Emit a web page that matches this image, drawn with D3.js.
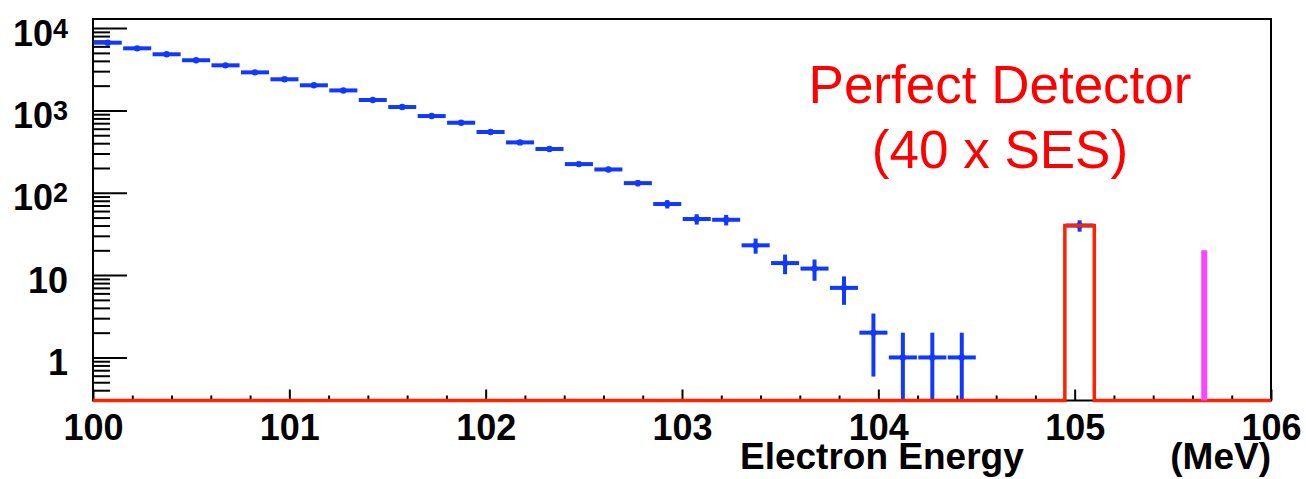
<!DOCTYPE html>
<html>
<head>
    <title>Electron Energy - Perfect Detector</title>
    <meta charset="utf-8">
    <script src="https://d3js.org/d3.v7.min.js"></script>
    <style>
        body, html {
            margin: 0;
            padding: 0;
            background: #ffffff;
        }
        svg {
            display: block;
            font-family: "Liberation Sans", Arial, Helvetica, sans-serif;
        }
        .axis text {
            font-size: 36px;
            font-weight: bold;
            fill: #000;
        }
        .axis path {
            display: none;
        }
        .axis line {
            stroke: #000;
            stroke-width: 2px;
        }
    </style>
</head>
<body>
    <svg width="1306" height="479"></svg>
    <script>
        // histogram binning: 40 bins of 0.15 MeV from 100 to 106
        const binStart = 100;
        const binWidth = 0.15;

        // blue: background counts per bin
        const blueCounts = [6650, 5680, 4810, 4070, 3530, 2900, 2390, 2020, 1750, 1340,
                            1100, 855, 709, 547, 409, 340, 223, 192, 131, 73,
                            48, 47, 23, 14, 12, 7, 2, 1, 1, 1,
                            0, 0, 0, 40, 0, 0, 0, 0, 0, 0];

        // red: perfect detector signal (40 x SES)
        const redCounts = [0, 0, 0, 0, 0, 0, 0, 0, 0, 0,
                           0, 0, 0, 0, 0, 0, 0, 0, 0, 0,
                           0, 0, 0, 0, 0, 0, 0, 0, 0, 0,
                           0, 0, 0, 40, 0, 0, 0, 0, 0, 0];

        // magenta: single line
        const lineX = [105.66];
        const lineY = [20];

        const xMajorTicks = [100, 101, 102, 103, 104, 105, 106];
        const yMajorTicks = [1, 10, 100, 1000, 10000];
        const yTickLabels = ["1", "10", "10^2", "10^3", "10^4"];

        const svg = d3.select("svg");

        const plotLeft = 93, plotRight = 1271, plotTop = 19, plotBottom = 400.5;

        const x = d3.scaleLinear().domain([100, 106]).range([plotLeft, plotRight]);
        const y = d3.scaleLog().domain([0.3, 12900]).range([plotBottom, plotTop]);
        const yMin = y.domain()[0];

        // minor ticks
        const xMinorTicks = d3.range(0, 31).map(i => 100 + i * 0.2).filter(v => Math.abs(v - Math.round(v)) > 1e-6);
        const yMinorTicks = [];
        [0.1, 1, 10, 100, 1000].forEach(dec => {
            for (let k = 2; k <= 9; k++) {
                const v = dec * k;
                if (v > yMin && v < y.domain()[1]) yMinorTicks.push(v);
            }
        });

        // frame
        svg.append("rect")
            .attr("x", plotLeft).attr("y", plotTop)
            .attr("width", plotRight - plotLeft).attr("height", plotBottom - plotTop)
            .attr("fill", "none")
            .attr("stroke", "#000")
            .attr("stroke-width", 2);

        // x axis (ticks point up into the frame)
        svg.append("g")
            .attr("class", "axis")
            .attr("transform", `translate(0,${plotBottom})`)
            .call(d3.axisBottom(x).tickValues(xMinorTicks).tickSize(-5).tickFormat(""));

        svg.append("g")
            .attr("class", "axis")
            .attr("transform", `translate(0,${plotBottom})`)
            .call(d3.axisBottom(x).tickValues(xMajorTicks).tickSize(-11).tickPadding(14).tickFormat(d3.format("d")));

        // y axis (ticks point right into the frame)
        svg.append("g")
            .attr("class", "axis")
            .attr("transform", `translate(${plotLeft},0)`)
            .call(d3.axisLeft(y).tickValues(yMinorTicks).tickSize(-17).tickFormat(""));

        const yAxis = svg.append("g")
            .attr("class", "axis")
            .attr("transform", `translate(${plotLeft},0)`)
            .call(d3.axisLeft(y).tickValues(yMajorTicks).tickSize(-34).tickPadding(25));

        yAxis.selectAll("text")
            .attr("dy", "0.47em")
            .text(null)
            .each(function(d, i) {
                const parts = yTickLabels[i].split("^");
                const t = d3.select(this);
                t.append("tspan").text(parts[0]);
                if (parts[1]) {
                    t.append("tspan")
                        .attr("dy", -8)
                        .style("font-size", "27px")
                        .text(parts[1]);
                }
            });

        // axis title
        svg.append("text")
            .attr("x", 740).attr("y", 469)
            .style("font-size", "37px").style("font-weight", "bold")
            .text("Electron Energy");
        svg.append("text")
            .attr("x", plotRight).attr("y", 469)
            .attr("text-anchor", "end")
            .style("font-size", "37px").style("font-weight", "bold")
            .text("(MeV)");

        // blue histogram with error bars
        const blue = "#1038ff";
        const bins = blueCounts.map((v, i) => ({
            lo: binStart + i * binWidth,
            hi: binStart + (i + 1) * binWidth,
            mid: binStart + (i + 0.5) * binWidth,
            v: v
        })).filter(d => d.v > 0);

        const bg = svg.append("g");
        bg.selectAll("line.h")
            .data(bins)
            .enter().append("line")
            .attr("x1", d => x(d.lo) + 0.7)
            .attr("x2", d => x(d.hi) - 0.7)
            .attr("y1", d => y(d.v))
            .attr("y2", d => y(d.v))
            .attr("stroke", blue)
            .attr("stroke-width", 4);

        bg.selectAll("line.v")
            .data(bins)
            .enter().append("line")
            .attr("x1", d => x(d.mid))
            .attr("x2", d => x(d.mid))
            .attr("y1", d => y(d.v + Math.sqrt(d.v)))
            .attr("y2", d => y(Math.max(d.v - Math.sqrt(d.v), yMin)))
            .attr("stroke", blue)
            .attr("stroke-width", 4);

        bg.selectAll("circle")
            .data(bins)
            .enter().append("circle")
            .attr("cx", d => x(d.mid))
            .attr("cy", d => y(d.v))
            .attr("r", 3.2)
            .attr("fill", blue);

        // red step histogram
        const redPts = [];
        redCounts.forEach((v, i) => {
            const val = Math.max(v, yMin);
            redPts.push([binStart + i * binWidth, val]);
            redPts.push([binStart + (i + 1) * binWidth, val]);
        });
        svg.append("path")
            .datum(redPts)
            .attr("fill", "none")
            .attr("stroke", "#ff2200")
            .attr("stroke-width", 3.5)
            .attr("d", d3.line().x(d => x(d[0])).y(d => y(d[1])));

        // magenta line
        svg.selectAll("line.sig")
            .data(lineX.map((v, i) => [v, lineY[i]]))
            .enter().append("line")
            .attr("x1", d => x(d[0]))
            .attr("x2", d => x(d[0]))
            .attr("y1", d => y(d[1]))
            .attr("y2", plotBottom)
            .attr("stroke", "#ff44ff")
            .attr("stroke-width", 6);

        // annotation
        const note = svg.append("text")
            .attr("text-anchor", "middle")
            .style("font-size", "53px")
            .attr("fill", "#ff0000");
        note.append("tspan").attr("x", 1000).attr("y", 103).text("Perfect Detector");
        note.append("tspan").attr("x", 1000).attr("y", 168).text("(40 x SES)");
    </script>
</body>
</html>
